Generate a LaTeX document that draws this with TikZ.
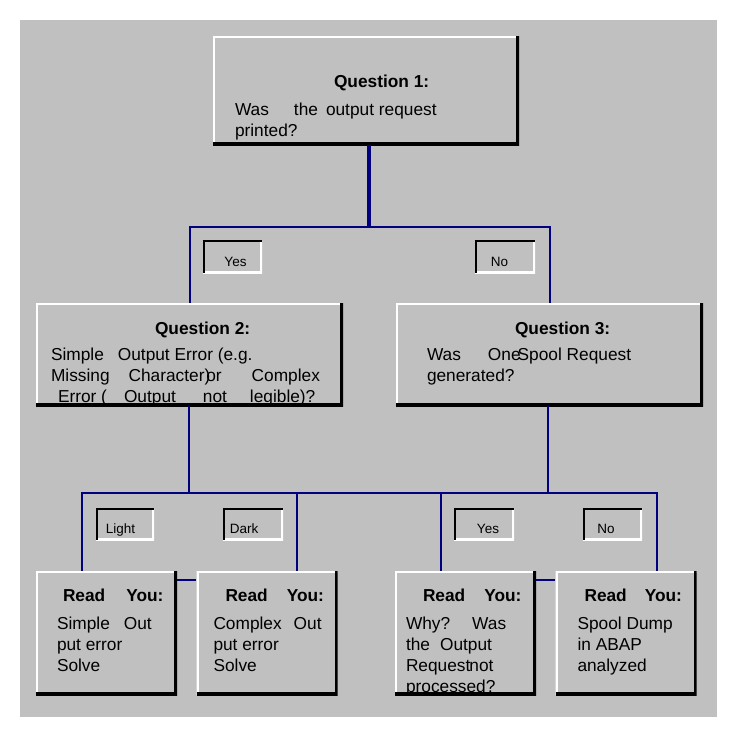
\documentclass[tikz,border=0pt]{standalone}
\usepackage{fontspec}
\setmainfont{Liberation Sans}
\usetikzlibrary{positioning}
\definecolor{panelgray}{RGB}{192,192,192}
\definecolor{wirenavy}{RGB}{0,0,128}
\tikzset{
    x=1pt, y=-1pt, % one unit is one pixel, y grows downwards
    raised/.style={ % Box standing out: light top/left, dark bottom/right
        fill=panelgray,
        inner sep=0pt,
        path picture={
            \draw[white, line width=4pt] (path picture bounding box.south west) |- (path picture bounding box.north east);
            \draw[black, line width=6pt] (path picture bounding box.south west) -| (path picture bounding box.north east);
        }
    },
    sunken/.style={ % Small answer tag: dark top/left, light bottom/right
        fill=panelgray,
        inner sep=0pt,
        text height=19pt, text depth=0pt, % puts the word a bit low, as printed
        font=\fontsize{13.5}{16}\selectfont,
        path picture={
            \draw[white, line width=4pt] (path picture bounding box.south west) -| (path picture bounding box.north east);
            \draw[black, line width=4pt] (path picture bounding box.south west) |- (path picture bounding box.north east);
        }
    },
    qbox/.style={raised, minimum width=307pt, minimum height=103pt},
    leafbox/.style={raised, minimum width=141pt, minimum height=124pt},
    tag/.style={sunken, minimum width=59pt, minimum height=32pt},
    boxtext/.style={ % Text block inside a box
        font=\fontsize{17.3}{21}\selectfont,
        align=left,
        inner sep=0pt
    },
    wire/.style={draw=wirenavy, line width=2pt},
    trunk/.style={draw=wirenavy, line width=4pt}
}
\newcommand{\tagword}[2]{\hspace*{#1pt}#2\hspace*{-#1pt}} % word moved sideways in its tag
\begin{document}
\begin{tikzpicture}
    \useasboundingbox (0,0) rectangle (738,737);
    \fill[panelgray] (20,20) rectangle (717,717);

    % questions
    \node[raised, minimum width=306pt, minimum height=109pt] (q1) at (366,90.5) {};
    \node[qbox] (q2) at (189.5,354.5) {};
    \node[qbox] (q3) at (549.5,354.5) {};

    % answers
    \node[leafbox] (r1) at (106.5,633) {};
    \node[leafbox] (r2) at (267,633) {};
    \node[leafbox] (r3) at (465.5,633) {};
    \node[leafbox] (r4) at (626,633) {};

    % branches
    \coordinate (j1) at (369,227);
    \coordinate (j2) at (189,493);
    \coordinate (j3) at (548,493);
    \draw[trunk] (q1.south -| j1) -- (j1);
    \draw[wire] (q2.north) |- (j1) -| (q3.north);
    \draw[wire] (j2 |- q2.south) -- (j2);
    \draw[wire] (j3 |- q3.south) -- (j3);
    \draw[wire] ([xshift=46pt]r1.north west) |- ([xshift=-40pt]r4.north east |- j2) -- ([xshift=-40pt]r4.north east);
    \draw[wire] ([xshift=-41pt]r2.north east) |- (j2);
    \draw[wire] ([xshift=46pt]r3.north west) |- (j3);
    \draw[wire] ([yshift=-9pt]r1.north east) -- ([yshift=-9pt]r2.north west);
    \draw[wire] ([yshift=-9pt]r3.north east) -- ([yshift=-9pt]r4.north west);

    % tags
    \node[tag, minimum height=33pt] (yes1) at (232.5,256.5) {\tagword{3}{Yes}};
    \node[tag, minimum height=33pt, minimum width=60pt] (no1) at (505,256.5) {\tagword{-5.5}{No}};
    \node[tag, minimum width=58pt] (light) at (125,524) {\tagword{-4.5}{Light}};
    \node[tag, minimum width=60pt] (dark) at (253,524) {\tagword{-9}{Dark}};
    \node[tag, minimum width=60pt] (yes2) at (484,524) {\tagword{4}{Yes}};
    \node[tag] (no2) at (612.5,524) {\tagword{-6.5}{No}};

    % texts
    \node[boxtext, below right=38.5pt and 22pt of q1.north west] (q1txt)
        {\hspace*{99pt}\textbf{Question 1:}\\[7pt]
         Was\hspace{25pt}the\hspace{8pt}output request\\
         printed?};
    \node[boxtext, below right=18.5pt and 15pt of q2.north west] (q2txt)
        {\hspace*{104pt}\textbf{Question 2:}\\[5pt]
         Simple\hspace{14pt}Output Error (e.g.\\
         Missing\hspace{19pt}Character)\kern-4pt or\hspace{30pt}Complex\\
         \hspace*{7pt}Error (\hspace{17pt}Output\hspace{27pt}not\hspace{23pt}legible)?};
    \node[boxtext, below right=18.5pt and 31pt of q3.north west] (q3txt)
        {\hspace*{88pt}\textbf{Question 3:}\\[5pt]
         Was\hspace{27pt}One\kern-3pt Spool Request\\
         generated?};
    \node[boxtext, below right=17.5pt and 21pt of r1.north west] (r1txt)
        {\hspace*{6pt}\textbf{Read\hspace{21pt}You:}\\[7pt]
         Simple\hspace{14pt}Out\\ put error\\ Solve};
    \node[boxtext, below right=17.5pt and 17pt of r2.north west] (r2txt)
        {\hspace*{12pt}\textbf{Read\hspace{19pt}You:}\\[7pt]
         Complex\hspace{12pt}Out\\ put error\\ Solve};
    \node[boxtext, below right=17.5pt and 11pt of r3.north west] (r3txt)
        {\hspace*{17pt}\textbf{Read\hspace{19pt}You:}\\[7pt]
         Why?\hspace{22pt}Was\\ the\hspace{10pt}Output\\ Request\kern-1pt not\\ processed?};
    \node[boxtext, below right=17.5pt and 22pt of r4.north west] (r4txt)
        {\hspace*{7pt}\textbf{Read\hspace{18pt}You:}\\[7pt]
         Spool Dump\\ in ABAP\\ analyzed};
\end{tikzpicture}
\end{document}
